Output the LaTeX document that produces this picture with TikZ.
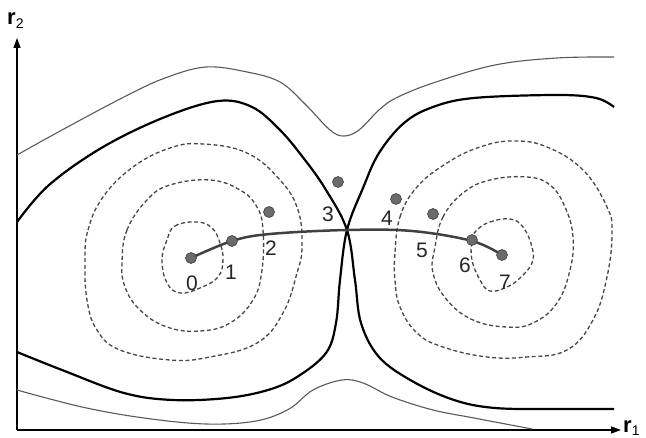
\documentclass[tikz,border=0pt]{standalone}
\usepackage{fontspec}
\setmainfont{Liberation Sans}
\usetikzlibrary{arrows.meta}
\tikzset{
  thincurve/.style={draw=black!65, line width=1.1pt},
  thickcurve/.style={draw=black, line width=2.2pt},
  dashcurve/.style={draw=black!72, line width=1.3pt, dash pattern=on 4pt off 2.6pt},
  mep/.style={draw=black!75, line width=2.5pt},
  dot/.style={circle, fill=black!58, draw=black!75, line width=0.6pt, minimum size=11pt, inner sep=0pt},
  lbl/.style={font=\fontsize{21}{21}\selectfont, text=black!85, inner sep=0pt},
  axis/.style={draw=black, line width=1.3pt, -{Triangle[length=10pt,width=7pt]}}
}
\begin{document}
\begin{tikzpicture}[x=1pt,y=-1pt]
\useasboundingbox (0,0) rectangle (646,438);
% axes
\coordinate (o) at (17,430);
\coordinate (ytip) at (17,38);
\coordinate (xtip) at (621,430);
\draw[axis] (o) -- (ytip);
\draw[axis] (o) -- (xtip);
\node[anchor=base west, inner sep=0pt] (r1) at (623,433) {{\fontsize{22}{22}\selectfont\bfseries r}{\fontsize{14}{14}\selectfont\raisebox{-3pt}{1}}};
\node[anchor=base west, inner sep=0pt] (r2) at (7,25) {{\fontsize{22}{22}\selectfont\bfseries r}{\fontsize{14}{14}\selectfont\raisebox{-4pt}{2}}};

% thin outer curves
\draw[thincurve] plot[smooth, tension=0.6] coordinates {(17,155) (62,130) (124,97) (165,78) (206,67) (247,72) (280,82) (305,104) (330,130) (344,136) (359,130) (379,110) (396,98) (433,83) (495,65) (557,58) (614,57)};
\draw[thincurve] plot[smooth, tension=0.6] coordinates {(17,390) (82,407) (144,418) (206,424) (256,421) (289,409) (313,390) (342,380) (363,383) (392,397) (433,410) (474,418) (532,429)};

% thick separatrices
\coordinate (x) at (347,230);
\draw[thickcurve] plot[smooth, tension=0.6] coordinates {(17,222) (49,185) (103,147) (165,117) (218,101) (252,107) (280,130) (305,160) (326,190) (x) (355,280) (361,323) (379,357) (412,381) (454,400) (495,408) (555,409) (614,409)};
\draw[thickcurve] plot[smooth, tension=0.6] coordinates {(614,107) (596,98) (557,95) (474,98) (433,107) (404,123) (379,153) (363,188) (x) (340,280) (336,323) (326,353) (297,377) (268,390) (227,398) (173,400) (124,393) (62,370) (17,352)};

% left dashed contours
\draw[dashcurve] plot[smooth cycle, tension=0.7] coordinates {(167,240) (175,226) (197,222) (212,228) (220,243) (223,260) (218,277) (200,288) (180,293) (167,283) (162,260)};
\draw[dashcurve] plot[smooth cycle, tension=0.7] coordinates {(122,263) (127,230) (147,200) (170,185) (210,180) (240,190) (257,207) (263,230) (262,270) (253,300) (230,323) (200,331) (167,327) (140,310) (125,287)};
\draw[dashcurve] plot[smooth cycle, tension=0.7] coordinates {(85,260) (88,230) (103,197) (133,167) (170,148) (203,144) (247,153) (280,180) (298,210) (302,247) (297,273) (283,313) (257,343) (210,357) (170,360) (120,350) (97,330) (87,300)};

% right dashed contours
\draw[dashcurve] plot[smooth cycle, tension=0.7] coordinates {(477,230) (490,222) (510,219) (523,227) (532,247) (532,263) (520,278) (507,287) (490,291) (480,280) (472,260) (472,240)};
\draw[dashcurve] plot[smooth cycle, tension=0.7] coordinates {(435,247) (443,217) (463,193) (490,180) (527,177) (550,185) (565,207) (573,237) (570,270) (557,303) (533,323) (507,327) (473,320) (447,300) (433,273)};
\draw[dashcurve] plot[smooth cycle, tension=0.7] coordinates {(395,253) (400,217) (417,187) (447,163) (480,147) (513,141) (547,147) (583,170) (607,207) (612,233) (607,277) (593,320) (567,350) (527,357) (487,357) (443,347) (417,333) (400,307) (395,280)};

% minimum energy path
\draw[mep] plot[smooth, tension=0.6] coordinates {(191,258) (232,241) (270,234) (x) (412,231) (472,241) (502,255)};

% images
\node[dot] (p0) at (191,258) {};
\node[dot] (p1) at (232,241) {};
\node[dot] (p2) at (269,212) {};
\node[dot] (p3) at (338,182) {};
\node[dot] (p4) at (396,199) {};
\node[dot] (p5) at (433,214) {};
\node[dot] (p6) at (472,240) {};
\node[dot] (p7) at (502,255) {};

\node[lbl] (l0) at (192,283) {0};
\node[lbl] (l1) at (231,272) {1};
\node[lbl] (l2) at (271,248) {2};
\node[lbl] (l3) at (328,214) {3};
\node[lbl] (l4) at (387,218) {4};
\node[lbl] (l5) at (422,250) {5};
\node[lbl] (l6) at (465,265) {6};
\node[lbl] (l7) at (505,282) {7};
\end{tikzpicture}
\end{document}
